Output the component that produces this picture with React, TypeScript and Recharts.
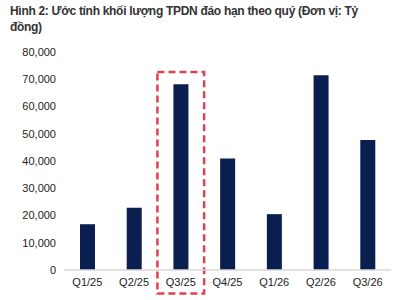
import React from 'react';
import { BarChart, Bar, XAxis, YAxis, ReferenceArea } from 'recharts';

const quarters = ['Q1/25', 'Q2/25', 'Q3/25', 'Q4/25', 'Q1/26', 'Q2/26', 'Q3/26'];
const maturing = [16800, 22800, 68200, 40900, 20500, 71500, 47700];
const yTicks = [0, 10000, 20000, 30000, 40000, 50000, 60000, 70000, 80000];
const highlighted = 'Q3/25';
const titleLines = ['Hình 2: Ước tính khối lượng TPDN đáo hạn theo quý (Đơn vị: Tỷ', 'đồng)'];

const data = quarters.map((q, i) => ({ q, value: maturing[i] }));

const fmt = (v: number) => v.toLocaleString('en-US');

const tickStyle = { fill: '#222', fontSize: 11, fontFamily: 'Liberation Sans, Arial, sans-serif' };

const App: React.FC = () => {
  return (
    <div style={{ position: 'absolute', left: 0, top: 0, width: 400, height: 300, background: '#fff' }}>
      <BarChart width={400} height={300} data={data} margin={{ top: 52, right: 9, left: 0, bottom: 0 }}>
        <XAxis
          dataKey="q"
          height={30}
          tickLine={false}
          axisLine={{ stroke: '#d9d9d9', strokeWidth: 1.5 }}
          tick={tickStyle}
          interval={0}
        />
        <YAxis
          width={64}
          domain={[0, 80000]}
          ticks={yTicks}
          tickFormatter={fmt}
          tickLine={false}
          axisLine={false}
          tick={tickStyle}
        />
        <Bar dataKey="value" fill="#0a1e50" barSize={15} isAnimationActive={false} />
        <ReferenceArea
          x1={highlighted}
          x2={highlighted}
          y1={-8600}
          y2={72700}
          ifOverflow="visible"
          fill="none"
          stroke="#e0404f"
          strokeWidth={2.5}
          strokeDasharray="7 4"
        />
      </BarChart>
      <div
        style={{
          position: 'absolute',
          left: 10,
          top: 3,
          whiteSpace: 'nowrap',
          fontFamily: 'Liberation Sans, Arial, sans-serif',
          fontWeight: 'bold',
          fontSize: 12,
          letterSpacing: -0.3,
          lineHeight: '16px',
          color: '#333',
        }}
      >
        {titleLines[0]}
        <br />
        {titleLines[1]}
      </div>
    </div>
  );
};

export default App;
